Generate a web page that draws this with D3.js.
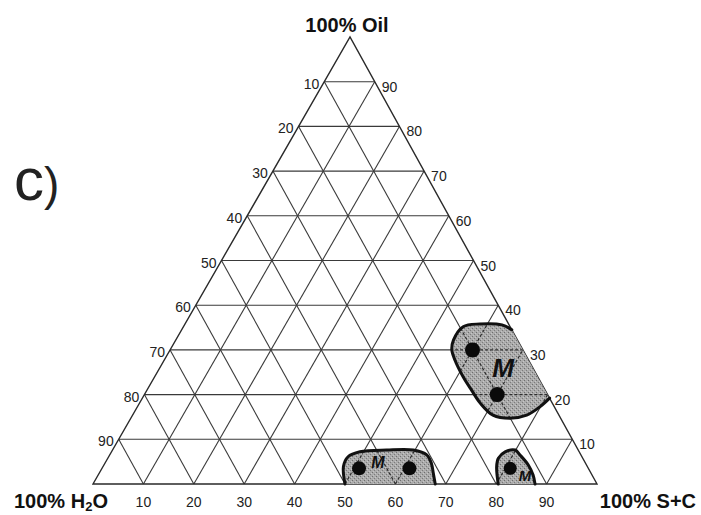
<!DOCTYPE html>
<html>
<head>
<meta charset="utf-8">
<script src="https://cdn.jsdelivr.net/npm/d3@7"></script>
<style>
  body { margin: 0; background: #fff; }
  svg { display: block; font-family: "Liberation Sans", Arial, sans-serif; }
</style>
</head>
<body>
<div id="chart"></div>
<script>
// grid levels (percent) and tick labels
const gridLevels = [10, 20, 30, 40, 50, 60, 70, 80, 90];
const leftTicks = ["10", "20", "30", "40", "50", "60", "70", "80", "90"];
const rightTicks = ["90", "80", "70", "60", "50", "40", "30", "20", "10"];
const bottomTicks = ["10", "20", "30", "40", "50", "60", "70", "80", "90"];

// regions, as [S+C %, Oil %] (H2O is the rest)
const regionBig = [[80.8, 19.2], [79.9, 17.3], [78.2, 15.4], [75.2, 14.7], [71.5, 15.4], [67.6, 18.1],
  [64.4, 21.0], [61.2, 24.0], [57.7, 27.7], [55.9, 30.0], [55.1, 32.2], [55.5, 35.2], [58.5, 35.8],
  [63.0, 35.6], [65.5, 34.5]];
const regionMid = [[50, 0], [47.7, 3.9], [47.5, 6.1], [49.3, 7.2], [54.4, 7.6], [59.7, 7.6],
  [62.9, 6.5], [64.8, 4.6], [66.3, 2.4], [67.9, 0]];
const regionSmall = [[80.4, 0], [78.1, 3.9], [77.5, 5.75], [78.1, 7.2], [79.9, 7.6], [81.4, 6.5],
  [84.2, 4.25], [86.3, 2.0], [87.7, 0]];

const dotsBig = [[60, 30], [70, 20]];
const dotsMid = [[51, 3.5], [61, 3.5]];
const dotsSmall = [[81, 3.5]];

const labelsM = [[68.1, 26], [54.1, 4.8], [84.7, 2.0]];

const width = 701, height = 515;
const apex = [350, 37], bl = [93, 484], br = [597, 484];

const svg = d3.select("#chart").append("svg")
  .attr("width", width)
  .attr("height", height);

const sScale = d3.scaleLinear().domain([0, 100]).range([0, br[0] - bl[0]]);
const oxScale = d3.scaleLinear().domain([0, 100]).range([0, apex[0] - bl[0]]);
const oyScale = d3.scaleLinear().domain([0, 100]).range([bl[1], apex[1]]);
const proj = (s, o) => [bl[0] + sScale(s) + oxScale(o), oyScale(o)];

// stipple pattern for the shaded regions
const defs = svg.append("defs");
const pat = defs.append("pattern")
  .attr("id", "stip")
  .attr("patternUnits", "userSpaceOnUse")
  .attr("width", 4).attr("height", 4);
pat.append("rect").attr("width", 4).attr("height", 4).attr("fill", "#ababab");
pat.append("rect").attr("x", 0).attr("y", 0).attr("width", 1).attr("height", 1).attr("fill", "#6e6e6e");
pat.append("rect").attr("x", 2).attr("y", 2).attr("width", 1).attr("height", 1).attr("fill", "#7c7c7c");
pat.append("rect").attr("x", 3).attr("y", 1).attr("width", 1).attr("height", 1).attr("fill", "#c8c8c8");
pat.append("rect").attr("x", 1).attr("y", 3).attr("width", 1).attr("height", 1).attr("fill", "#c4c4c4");

// grid segments
const segs = [];
gridLevels.forEach(v => {
  segs.push([proj(0, v), proj(100 - v, v)]);        // constant oil
  segs.push([proj(v, 0), proj(v, 100 - v)]);        // constant S+C
  segs.push([proj(100 - v, 0), proj(0, 100 - v)]);  // constant H2O
});

const g = svg.append("g");

g.selectAll(".grid")
  .data(segs)
  .join("line")
  .attr("class", "grid")
  .attr("x1", d => d[0][0]).attr("y1", d => d[0][1])
  .attr("x2", d => d[1][0]).attr("y2", d => d[1][1])
  .attr("stroke", "#3a3a3a")
  .attr("stroke-width", 1.1);

g.append("path")
  .attr("d", "M" + [proj(0, 0), proj(100, 0), proj(0, 100)].join("L") + "Z")
  .attr("fill", "none")
  .attr("stroke", "#2a2a2a")
  .attr("stroke-width", 1.4);

// regions: curved top, straight closing edge
const curve = d3.line()
  .x(d => proj(d[0], d[1])[0])
  .y(d => proj(d[0], d[1])[1])
  .curve(d3.curveCatmullRom.alpha(0.5));

const regions = [regionBig, regionMid, regionSmall];
regions.forEach((r, i) => {
  defs.append("clipPath").attr("id", "clip" + i)
    .append("path").attr("d", curve(r) + "Z");
});

const rg = svg.append("g");
regions.forEach((r, i) => {
  rg.append("path")
    .attr("d", curve(r) + "Z")
    .attr("fill", "url(#stip)");
  rg.append("g")
    .attr("clip-path", `url(#clip${i})`)
    .selectAll("line")
    .data(segs)
    .join("line")
    .attr("x1", d => d[0][0]).attr("y1", d => d[0][1])
    .attr("x2", d => d[1][0]).attr("y2", d => d[1][1])
    .attr("stroke", "#2e2e2e")
    .attr("stroke-width", 1.2)
    .attr("stroke-dasharray", "3,2");
  rg.append("path")
    .attr("d", curve(r))
    .attr("fill", "none")
    .attr("stroke", "#111")
    .attr("stroke-width", 3)
    .attr("stroke-linecap", "round");
});

// dots
[[dotsBig, 7.5], [dotsMid, 7], [dotsSmall, 6.5]].forEach(([pts, r]) => {
  rg.selectAll(null)
    .data(pts)
    .join("circle")
    .attr("cx", d => proj(d[0], d[1])[0])
    .attr("cy", d => proj(d[0], d[1])[1])
    .attr("r", r)
    .attr("fill", "#0a0a0a");
});

// M labels
const mSizes = [26, 16, 15];
rg.selectAll(".m")
  .data(labelsM)
  .join("text")
  .attr("class", "m")
  .attr("x", d => proj(d[0], d[1])[0])
  .attr("y", d => proj(d[0], d[1])[1])
  .attr("text-anchor", "middle")
  .attr("dominant-baseline", "central")
  .attr("font-weight", "bold")
  .attr("font-style", "italic")
  .attr("font-size", (d, i) => mSizes[i])
  .attr("fill", "#111")
  .text("M");

// tick labels
const lab = svg.append("g").attr("font-size", 14).attr("fill", "#222");
lab.selectAll(".lt")
  .data(leftTicks)
  .join("text")
  .attr("x", (d, i) => proj(0, 100 - gridLevels[i])[0] - 5)
  .attr("y", (d, i) => proj(0, 100 - gridLevels[i])[1] + 2)
  .attr("text-anchor", "end")
  .attr("dominant-baseline", "central")
  .text(d => d);

lab.selectAll(".rt")
  .data(rightTicks)
  .join("text")
  .attr("x", (d, i) => proj(gridLevels[i], 100 - gridLevels[i])[0] + 7)
  .attr("y", (d, i) => proj(gridLevels[i], 100 - gridLevels[i])[1] + 5)
  .attr("dominant-baseline", "central")
  .text(d => d);

lab.selectAll(".bt")
  .data(bottomTicks)
  .join("text")
  .attr("x", (d, i) => proj(gridLevels[i], 0)[0])
  .attr("y", 502)
  .attr("text-anchor", "middle")
  .attr("dominant-baseline", "central")
  .text(d => d);

// corner titles
const tt = svg.append("g").attr("font-weight", "bold").attr("font-size", 20).attr("fill", "#111");
tt.append("text").attr("x", 347).attr("y", 32).attr("text-anchor", "middle").text("100% Oil");
const h2o = tt.append("text").attr("x", 14).attr("y", 508);
h2o.append("tspan").text("100% H");
h2o.append("tspan").attr("font-size", 13).attr("dy", 3).text("2");
h2o.append("tspan").attr("dy", -3).text("O");
tt.append("text").attr("x", 696).attr("y", 508).attr("text-anchor", "end").text("100% S+C");

// panel letter
const pl = svg.append("text").attr("x", 14).attr("y", 200).attr("fill", "#222");
pl.append("tspan").attr("font-size", 60).text("c");
pl.append("tspan").attr("font-size", 46).text(")");
</script>
</body>
</html>
